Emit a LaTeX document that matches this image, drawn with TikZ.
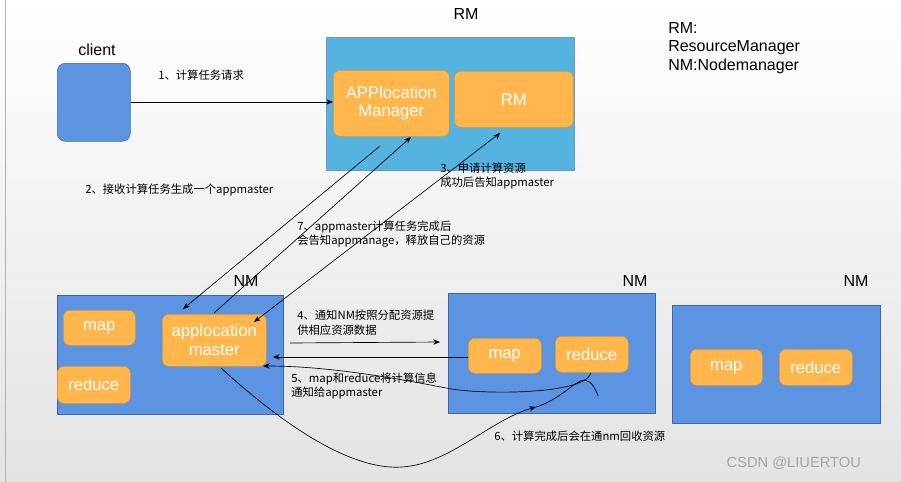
\documentclass[tikz,border=0pt]{standalone}
\usepackage{fontspec}
\setmainfont{Liberation Sans}
\newfontfamily\cjk{Noto Sans CJK SC}
\usetikzlibrary{arrows.meta}
\definecolor{nmblue}{HTML}{5D94E2}
\definecolor{rmblue}{HTML}{55B3E0}
\definecolor{org}{HTML}{FFB74D}
\definecolor{orgd}{HTML}{D9962E}
\definecolor{bd}{HTML}{3C64B4}
\begin{document}
\begin{tikzpicture}[x=0.75pt,y=-0.75pt,
 box/.style={draw=bd,fill=nmblue,minimum width=#1,inner sep=0pt},
 blk/.style 2 args={draw=bd,fill=nmblue,anchor=north west,minimum width=#1*0.75pt,minimum height=#2*0.75pt,inner sep=0pt},
 ob/.style 2 args={draw=orgd,fill=org,rounded corners=5pt,anchor=north west,minimum width=#1*0.75pt,minimum height=#2*0.75pt,inner sep=0pt,text=white,font=\fontsize{12.5}{14}\selectfont,align=center},
 ttl/.style={font=\fontsize{12}{14}\selectfont},
 lbl/.style={font=\cjk\fontsize{8.5}{11}\selectfont,align=left,anchor=west,inner sep=0pt},
 arr/.style={-{Stealth[length=5pt,width=4pt]},black,line width=0.5pt}]
\shade[top color=white,bottom color=gray!22] (0,0) rectangle (901,482);
\useasboundingbox (0,0) rectangle (901,482);
\draw[gray!60] (5,0) -- (5,482);
% client
\node[ttl] (tc) at (97,50) {client};
\node[blk={73}{78},rounded corners=6pt] (client) at (57,63) {};
% RM
\node[ttl] (trm) at (466,14) {RM};
\node[draw=bd!70,fill=rmblue,anchor=north west,minimum width=248*0.75pt,minimum height=133*0.75pt,inner sep=0pt] (rm) at (326,37) {};
\node[ob={116}{66}] (am) at (333,70) {APPlocation\\Manager};
\node[ob={119}{56}] (rmi) at (454,71) {RM};
\node[ttl,align=left,anchor=north west,inner sep=0pt] (legend) at (668,22) {RM:\\ResourceManager\\NM:Nodemanager};
% NM1
\node[ttl] (tn1) at (246,281) {NM};
\node[blk={226}{119}] (nm1) at (57,295) {};
\node[ob={72}{35}] (map1) at (63,310) {map};
\node[ob={73}{37}] (red1) at (57,366) {reduce};
\node[ob={104}{52}] (apm) at (162,314) {applocation\\master};
% NM2
\node[ttl] (tn2) at (635,281) {NM};
\node[blk={207}{120}] (nm2) at (448,293) {};
\node[ob={73}{35}] (map2) at (468,338) {map};
\node[ob={73}{36}] (red2) at (555,336) {reduce};
% NM3
\node[ttl] (tn3) at (856,281) {NM};
\node[blk={208}{118}] (nm3) at (672,305) {};
\node[ob={72}{36}] (map3) at (690,349) {map};
\node[ob={73}{36}] (red3) at (779,349) {reduce};
% labels
\node[lbl] (l1) at (158,75) {1、计算任务请求};
\node[lbl] (l2) at (85,190) {2、接收计算任务生成一个appmaster};
\node[lbl] (l3) at (440,176) {3、申请计算资源\\成功后告知appmaster};
\node[lbl] (l7) at (297,234) {7、appmaster计算任务完成后\\会告知appmanage，释放自己的资源};
\node[lbl] (l4) at (297,323) {4、通知NM按照分配资源提\\供相应资源数据};
\node[lbl] (l5) at (291,386) {5、map和reduce将计算信息\\通知给appmaster};
\node[lbl] (l6) at (494,436) {6、计算完成后会在通nm回收资源};
\node[font=\fontsize{11}{13}\selectfont,text=gray!70,anchor=west] (wm) at (722,463) {CSDN @LIUERTOU};
% coordinates
\coordinate (a1) at (380,146); \coordinate (a2) at (183,309);
\coordinate (b1) at (214,313); \coordinate (b2) at (411,137);
\coordinate (c1) at (500,133); \coordinate (c2) at (254,322);
\coordinate (d1) at (290,343); \coordinate (d2) at (440,342);
\coordinate (e2) at (273,357);
\coordinate (f1) at (591,373); \coordinate (f2) at (263,366);
\coordinate (g1) at (221,368); \coordinate (g2) at (536,407); \coordinate (g3) at (598,396);
% arrows
\draw[arr] (client.east |- 0,102) -- (am.west |- 0,102);
\draw[arr] (a1) -- (a2);
\draw[arr] (b1) -- (b2);
\draw[arr] (c1) -- (c2);
\draw[{Stealth[length=5pt,width=4pt]}-,line width=0.5pt] (c1) -- ++(-1,1);
\draw[arr] (d1) -- (d2);
\draw[arr] (map2.west |- e2) -- (e2);
\draw[arr] (f1) .. controls (585,395) and (480,395) .. (446,388) .. controls (380,375) and (320,366) .. (f2);
\draw[arr] (g1) .. controls (300,440) and (360,470) .. (402,467) .. controls (450,464) and (490,420) .. (g2);
\draw[line width=0.5pt] (g2) .. controls (560,400) and (575,380) .. (585,380) .. controls (592,381) and (596,390) .. (g3);
\end{tikzpicture}
\end{document}
